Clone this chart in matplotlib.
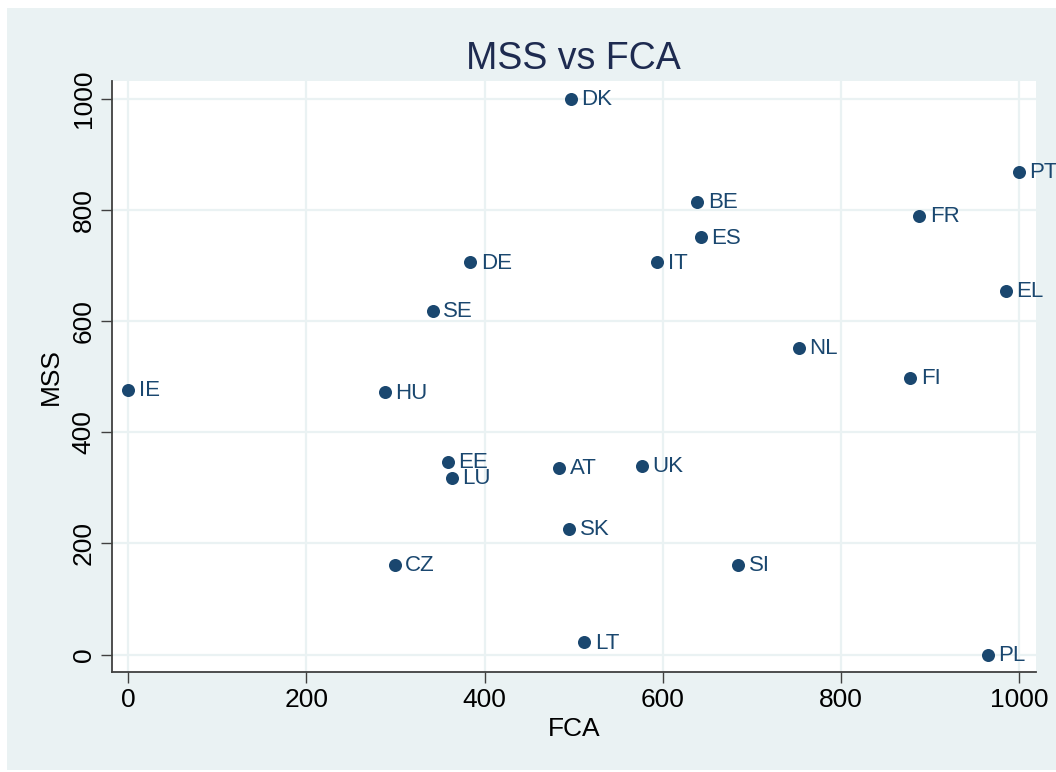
import matplotlib.pyplot as plt
from matplotlib.patches import Rectangle

plt.rcParams['font.family'] = ['Liberation Sans', 'DejaVu Sans']

# country codes and their values
countries = ['DK', 'PT', 'BE', 'FR', 'ES', 'DE', 'IT', 'EL', 'SE', 'NL', 'FI',
             'IE', 'HU', 'EE', 'LU', 'AT', 'UK', 'SK', 'CZ', 'SI', 'LT', 'PL']
fca = [497, 1000, 639, 888, 643, 384, 594, 985, 342, 753, 878,
       0, 288, 359, 363, 484, 577, 495, 299, 685, 512, 965]
mss = [1000, 869, 815, 789, 751, 706, 706, 654, 619, 552, 498,
       476, 472, 347, 318, 336, 339, 226, 161, 161, 22, 0]

xticks = [0, 200, 400, 600, 800, 1000]
yticks = [0, 200, 400, 600, 800, 1000]

navy = '#1A476F'
bgcol = '#EAF2F3'

fig = plt.figure(figsize=(10.56, 7.72), dpi=100)
fig.add_artist(Rectangle((7/1056, 2/772), 1 - 7/1056, 1 - 10/772,
                         transform=fig.transFigure, facecolor=bgcol,
                         edgecolor='none', zorder=-10))

ax = fig.add_axes([0.1058, 0.1295, 0.8753, 0.7656])
ax.set_facecolor('white')

ax.scatter(fca, mss, s=88, color=navy, zorder=3, linewidths=0)
for c, x, y in zip(countries, fca, mss):
    ax.annotate(c, (x, y), xytext=(7.5, -0.5), textcoords='offset points',
                va='center', ha='left', fontsize=16, color=navy, zorder=4,
                annotation_clip=False)

ax.set_xlim(-18.6, 1019.1)
ax.set_ylim(-31.5, 1032.6)
ax.set_xticks(xticks)
ax.set_yticks(yticks)
ax.set_xticklabels([str(t) for t in xticks])
ax.set_yticklabels([str(t) for t in yticks], rotation=90, va='center')

ax.grid(True, color=bgcol, linewidth=1.6, zorder=1)
ax.set_axisbelow(True)

for s in ['top', 'right']:
    ax.spines[s].set_visible(False)
for s in ['left', 'bottom']:
    ax.spines[s].set_color('#404040')
    ax.spines[s].set_linewidth(1.3)

ax.tick_params(axis='both', length=8, width=1, color='#404040',
               labelsize=19, labelcolor='black', pad=3.5)

ax.set_xlabel('FCA', fontsize=19, color='black')
ax.set_ylabel('MSS', fontsize=19, color='black')
ax.xaxis.set_label_coords(0.5, -0.0964)
ax.xaxis.label.set_verticalalignment('center')
ax.yaxis.set_label_coords(-0.0657, 0.5)
ax.yaxis.label.set_verticalalignment('center')

fig.text(0.5434, 1 - 59/772, 'MSS vs FCA', ha='center', va='center',
         fontsize=27, color='#1e2b50')

plt.savefig('out.png', dpi=100)
